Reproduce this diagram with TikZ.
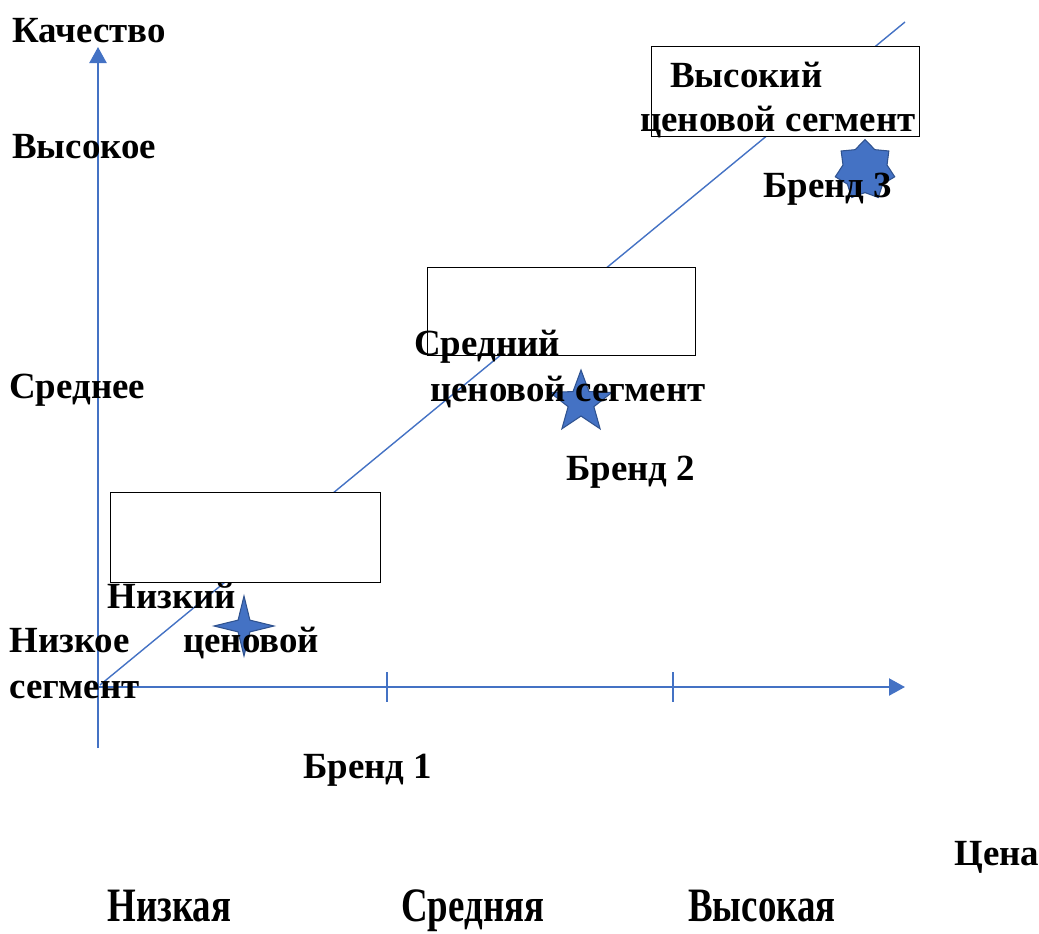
\documentclass[tikz,border=0pt]{standalone}
\usepackage{fontspec}
\setmainfont{Liberation Serif}
\usetikzlibrary{arrows.meta,shapes.geometric}
\definecolor{axblue}{HTML}{4472C4}
\definecolor{stedge}{HTML}{2F528F}
\tikzset{
  lbl/.style={inner sep=0pt,anchor=base west,font=\fontsize{21pt}{25pt}\selectfont\bfseries},
  axis/.style={axblue,line width=1.3pt},
  seg/.style={draw=black,fill=white,line width=0.8pt},
  starshape/.style={star,fill=axblue,draw=stedge,line width=0.6pt,inner sep=0pt},
  tall/.style={lbl,yscale=1.3},
}
\begin{document}
\begin{tikzpicture}[x=0.02cm,y=-0.02cm]
\useasboundingbox (0,0) rectangle (1039,934);
% axes
\coordinate (vb) at (98,748);
\coordinate (vt) at (98,47);
\coordinate (hl) at (98,687);
\coordinate (hr) at (905,687);
\draw[axis,-{Triangle[length=0.32cm,width=0.34cm]}] (vb) -- (vt);
\draw[axis,-{Triangle[length=0.32cm,width=0.34cm]}] (hl) -- (hr);
\coordinate (t1a) at (387,672); \coordinate (t1b) at (387,702);
\coordinate (t2a) at (673,672); \coordinate (t2b) at (673,702);
\draw[axis] (t1a) -- (t1b);
\draw[axis] (t2a) -- (t2b);
% stars
\node[starshape,star points=4,star point ratio=3.6,minimum size=1.2cm] (s1) at (244,626) {};
\node[starshape,star points=5,star point ratio=2.4,minimum size=1.3cm,yshift=-0.05cm] (s2) at (581,400) {};
\node[starshape,star points=7,star point ratio=1.35,minimum size=1.22cm] (s3) at (865,170) {};
% diagonal
\coordinate (d0) at (100,685);
\coordinate (d1) at (905,22);
\draw[axblue,line width=0.8pt] (d0) -- (d1);
% segment boxes
\node[seg,minimum width=5.4cm,minimum height=1.8cm,anchor=north west] (r1) at (110,492) {};
\node[seg,minimum width=5.36cm,minimum height=1.76cm,anchor=north west] (r2) at (427,267) {};
\node[seg,minimum width=5.36cm,minimum height=1.8cm,anchor=north west] (r3) at (651,46) {};
% labels
\node[lbl] (q) at (12,42) {Качество};
\node[lbl] (qh) at (12,158) {Высокое};
\node[lbl] (qm) at (9,398) {Среднее};
\node[lbl] (ql) at (9,652) {Низкое};
\node[lbl] (l1a) at (107,608) {Низкий};
\node[lbl] (l1b) at (183,652) {ценовой};
\node[lbl] (l1c) at (9,698) {сегмент};
\node[lbl] (l2a) at (414,355) {Средний};
\node[lbl] (l2b) at (430,401) {ценовой сегмент};
\node[lbl] (l3a) at (670,87) {Высокий};
\node[lbl] (l3b) at (640,131) {ценовой сегмент};
\node[lbl] (b1) at (303,778) {Бренд 1};
\node[lbl] (b2) at (566,480) {Бренд 2};
\node[lbl] (b3) at (763,197) {Бренд 3};
\node[lbl] (p) at (954,865) {Цена};
\node[tall] (pl) at (107,921) {Низкая};
\node[tall] (pm) at (401,921) {Средняя};
\node[tall] (ph) at (688,921) {Высокая};
\end{tikzpicture}
\end{document}
